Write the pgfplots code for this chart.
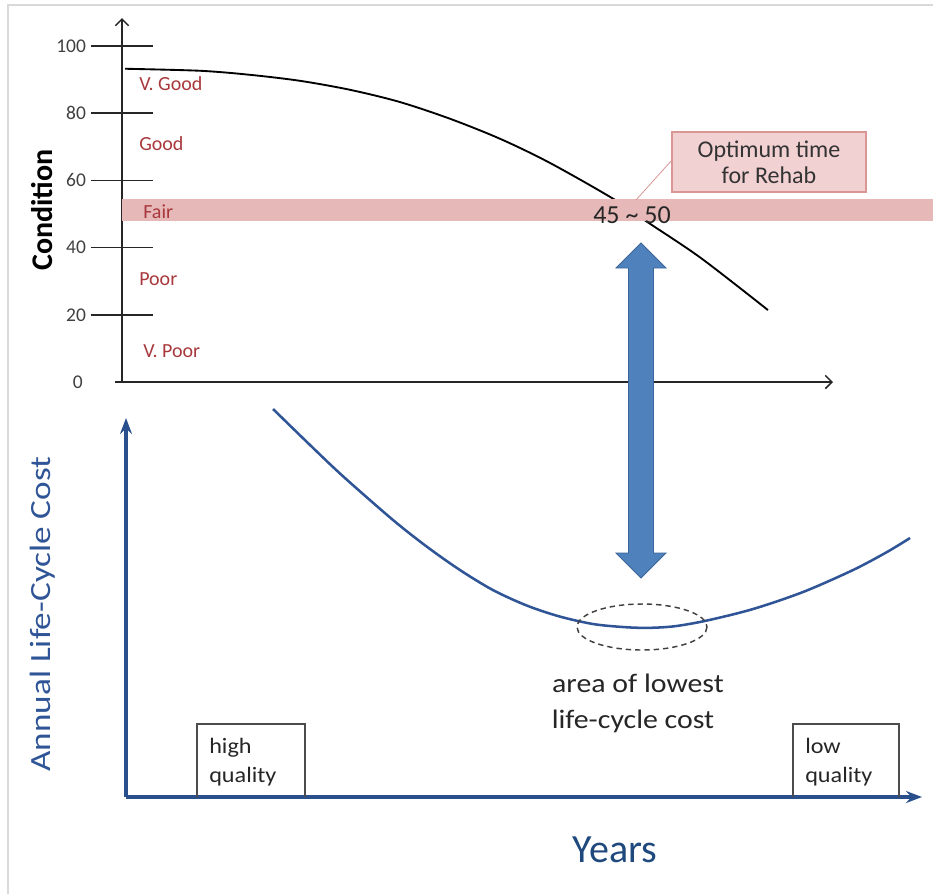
\documentclass[border=0pt]{standalone}
\usepackage{fontspec}
\setmainfont{Carlito}
\usepackage{graphicx}
\usepackage{pgfplots}
\usepackage{pgfplotstable}
\pgfplotsset{compat=1.18}
\usetikzlibrary{arrows.meta}

\definecolor{bandpink}{RGB}{230,184,184}
\definecolor{catred}{RGB}{168,56,60}
\definecolor{boxpink}{RGB}{242,209,211}
\definecolor{boxedge}{RGB}{217,150,148}
\definecolor{costblue}{RGB}{47,85,151}
\definecolor{axisblue}{RGB}{41,79,140}
\definecolor{yearsblue}{RGB}{31,73,125}
\definecolor{arrowblue}{RGB}{79,129,189}
\definecolor{arrowedge}{RGB}{58,102,153}
\definecolor{framegray}{RGB}{217,217,217}
\definecolor{ticklbl}{RGB}{64,64,64}

% condition vs. years (top)
\pgfplotstableread{
yr cond
0.29 93.2
7.44 92.6
12.2 91.4
17.0 89.6
21.8 86.9
26.5 83.3
31.3 78.3
36.1 72.3
40.8 65.2
46.85 54.5
50.1 47.6
55.2 36.9
61.6 21.4
}\conditiondata

% annual life-cycle cost vs. years (bottom)
\pgfplotstableread{
yr cost
14.03 102.37
17.56 92.87
20.71 84.62
25.48 73.08
28.72 66.02
31.87 59.88
35.02 54.59
38.26 50.50
41.41 47.60
44.66 45.60
47.81 44.78
50.00 44.64
52.39 45.07
55.44 46.57
59.83 49.60
64.60 54.09
69.37 59.89
72.61 64.64
74.81 68.34
}\costdata

\begin{document}
\begin{tikzpicture}[x=0.75pt, y=-0.75pt]
\useasboundingbox (0,0) rectangle (933,894);

\draw[framegray, line width=1.5pt] (8,894) -- (8,5) -- (933,5);

% top axis (origin at pixel 122,382)
\begin{axis}[
  at={(91.5pt,-286.5pt)}, anchor=south west,
  scale only axis, width=533.25pt, height=273pt,
  xmin=0, xmax=67.8, ymin=0, ymax=108.3,
  axis lines=left,
  axis line style={black!85, line width=1.1pt},
  x axis line style={-{Straight Barb[length=5pt,width=10pt]}, shorten <=-5pt},
  y axis line style={-{Straight Barb[length=5pt,width=10pt]}},
  xtick=\empty,
  ytick={20,40,60,80,100},
  tick align=center,
  major tick length=47pt,
  tick style={black!85, line width=1.1pt},
  yticklabel style={font=\fontsize{14.6}{17}\selectfont, text=ticklbl},
  /pgf/number format/assume math mode=true,
  extra y ticks={0},
  extra y tick style={major tick length=0pt, yticklabel style={xshift=-26pt}},
  clip=false,
]
\addplot[black, line width=1.4pt, smooth] table[x=yr, y=cond]{\conditiondata};
\fill[bandpink] (axis cs:0,47.9) rectangle (axis cs:77.4,54.5);
\end{axis}

% bottom axis (origin at pixel 126,797)
\begin{axis}[
  at={(94.5pt,-597.75pt)}, anchor=south west,
  scale only axis, width=597pt, height=284.25pt,
  xmin=0, xmax=75.95, ymin=0, ymax=100,
  axis lines=left,
  axis line style={axisblue, line width=2.3pt, -{Stealth[length=12pt,width=9pt,inset=4pt]}},
  xtick=\empty, ytick=\empty,
  clip=false,
]
\addplot[costblue, line width=1.9pt, smooth] table[x=yr, y=cost]{\costdata};
\end{axis}

% axis titles
\node[rotate=90, font=\fontsize{22.5}{27}\selectfont\bfseries] at (42,210) {Condition};
\node[rotate=90, text=costblue, font=\fontsize{22}{26}\selectfont] at (43,614) {\scalebox{1.2}[1]{Annual Life-Cycle Cost}};
\node[anchor=base, text=yearsblue, font=\fontsize{30}{36}\selectfont, inner sep=0pt] at (615,862) {Years};

% condition classes
\begin{scope}[every node/.style={anchor=base west, inner sep=0pt, text=catred, font=\fontsize{15}{18}\selectfont}]
\node at (139,90) {V. Good};
\node at (139,150) {Good};
\node at (143,218) {Fair};
\node at (139,285) {Poor};
\node at (143,357) {V. Poor};
\end{scope}

% callout
\draw[boxedge, line width=0.6pt] (672,160) -- (636,200);
\node[draw=boxedge, fill=boxpink, line width=0.8pt, minimum width=145.5pt, minimum height=45pt,
  inner sep=0pt, align=center, text=black!80, font=\fontsize{18}{19.5}\selectfont] at (769,162) {Optimum time\\for Rehab};
\node[anchor=base, inner sep=0pt, text=black!85, font=\fontsize{19.5}{23}\selectfont] at (632,223) {45 \textasciitilde{} 50};

% double arrow
\filldraw[fill=arrowblue, draw=arrowedge, line width=0.6pt]
  (641,243) -- (666,268) -- (653.5,268) -- (653.5,553) -- (666,553) -- (641,578)
  -- (616,553) -- (628.5,553) -- (628.5,268) -- (616,268) -- cycle;

% lowest-cost area
\draw[black!75, line width=1.1pt, dash pattern=on 4pt off 3pt] (642,627) ellipse [x radius=65, y radius=23];
\node[anchor=base, inner sep=0pt, text=black!85, font=\fontsize{20}{24}\selectfont] at (638,692) {\scalebox{1.12}[1]{area of lowest}};
\node[anchor=base, inner sep=0pt, text=black!85, font=\fontsize{20}{24}\selectfont] at (633,728) {\scalebox{1.12}[1]{life-cycle cost}};

% quality boxes
\draw[black!70, line width=0.9pt] (197,797) -- (197,724) -- (305,724) -- (305,797);
\draw[black!70, line width=0.9pt] (793,797) -- (793,724) -- (899,724) -- (899,797);
\begin{scope}[every node/.style={anchor=base west, inner sep=0pt, text=black!85, font=\fontsize{16.5}{20}\selectfont}]
\node at (209,753) {\scalebox{1.1}[1]{high}};
\node at (209,782) {\scalebox{1.1}[1]{quality}};
\node at (805,753) {\scalebox{1.1}[1]{low}};
\node at (805,782) {\scalebox{1.1}[1]{quality}};
\end{scope}
\end{tikzpicture}
\end{document}
